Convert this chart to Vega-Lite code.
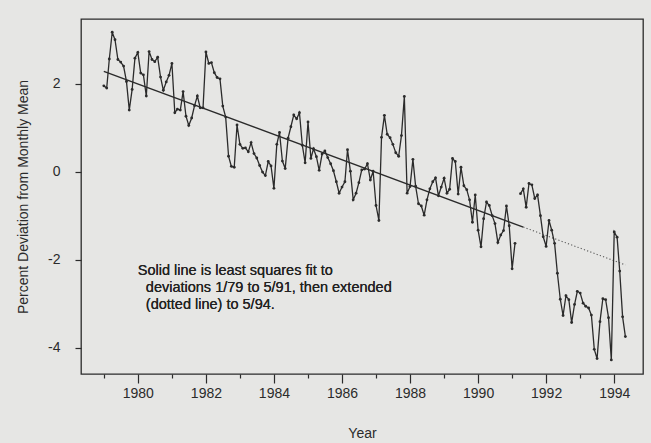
{
  "$schema": "https://vega.github.io/schema/vega-lite/v6.json",
  "width": 562,
  "height": 355,
  "autosize": "none",
  "padding": {"left": 81, "top": 19, "right": 8, "bottom": 69},
  "background": "#e6e6e4",
  "config": {
    "font": "Liberation Sans",
    "view": {"stroke": "#2b2b2b", "strokeWidth": 1.3, "fill": "#e6e6e4"},
    "axis": {"grid": false, "domain": false, "tickColor": "#2b2b2b", "tickWidth": 1.2, "labelColor": "#2b2b2b", "titleColor": "#2b2b2b", "labelFontSize": 14, "titleFontSize": 14, "titleFontWeight": "normal"}
  },
  "datasets": {
    "deviation": [
      {"month": "1979-01", "dev": 1.95}, {"month": "1979-02", "dev": 1.90}, {"month": "1979-03", "dev": 2.56}, {"month": "1979-04", "dev": 3.17},
      {"month": "1979-05", "dev": 3.00}, {"month": "1979-06", "dev": 2.55}, {"month": "1979-07", "dev": 2.49}, {"month": "1979-08", "dev": 2.40},
      {"month": "1979-09", "dev": 2.05}, {"month": "1979-10", "dev": 1.40}, {"month": "1979-11", "dev": 1.87}, {"month": "1979-12", "dev": 2.58},
      {"month": "1980-01", "dev": 2.71}, {"month": "1980-02", "dev": 2.24}, {"month": "1980-03", "dev": 2.20}, {"month": "1980-04", "dev": 1.72},
      {"month": "1980-05", "dev": 2.73}, {"month": "1980-06", "dev": 2.55}, {"month": "1980-07", "dev": 2.50}, {"month": "1980-08", "dev": 2.60},
      {"month": "1980-09", "dev": 2.15}, {"month": "1980-10", "dev": 1.85}, {"month": "1980-11", "dev": 2.04}, {"month": "1980-12", "dev": 2.19},
      {"month": "1981-01", "dev": 2.46}, {"month": "1981-02", "dev": 1.34}, {"month": "1981-03", "dev": 1.42}, {"month": "1981-04", "dev": 1.40},
      {"month": "1981-05", "dev": 1.82}, {"month": "1981-06", "dev": 1.26}, {"month": "1981-07", "dev": 1.05}, {"month": "1981-08", "dev": 1.22},
      {"month": "1981-09", "dev": 1.50}, {"month": "1981-10", "dev": 1.72}, {"month": "1981-11", "dev": 1.45}, {"month": "1981-12", "dev": 1.45},
      {"month": "1982-01", "dev": 2.72}, {"month": "1982-02", "dev": 2.46}, {"month": "1982-03", "dev": 2.48}, {"month": "1982-04", "dev": 2.25},
      {"month": "1982-05", "dev": 2.14}, {"month": "1982-06", "dev": 2.11}, {"month": "1982-07", "dev": 1.49}, {"month": "1982-08", "dev": 1.24},
      {"month": "1982-09", "dev": 0.35}, {"month": "1982-10", "dev": 0.12}, {"month": "1982-11", "dev": 0.10}, {"month": "1982-12", "dev": 1.06},
      {"month": "1983-01", "dev": 0.62}, {"month": "1983-02", "dev": 0.53}, {"month": "1983-03", "dev": 0.54}, {"month": "1983-04", "dev": 0.45},
      {"month": "1983-05", "dev": 0.66}, {"month": "1983-06", "dev": 0.41}, {"month": "1983-07", "dev": 0.31}, {"month": "1983-08", "dev": 0.14},
      {"month": "1983-09", "dev": -0.01}, {"month": "1983-10", "dev": -0.09}, {"month": "1983-11", "dev": 0.23}, {"month": "1983-12", "dev": 0.13},
      {"month": "1984-01", "dev": -0.38}, {"month": "1984-02", "dev": 0.62}, {"month": "1984-03", "dev": 0.89}, {"month": "1984-04", "dev": 0.24},
      {"month": "1984-05", "dev": 0.07}, {"month": "1984-06", "dev": 0.76}, {"month": "1984-07", "dev": 1.02}, {"month": "1984-08", "dev": 1.29},
      {"month": "1984-09", "dev": 1.20}, {"month": "1984-10", "dev": 1.34}, {"month": "1984-11", "dev": 0.60}, {"month": "1984-12", "dev": 0.20},
      {"month": "1985-01", "dev": 1.13}, {"month": "1985-02", "dev": 0.30}, {"month": "1985-03", "dev": 0.52}, {"month": "1985-04", "dev": 0.34},
      {"month": "1985-05", "dev": 0.03}, {"month": "1985-06", "dev": 0.40}, {"month": "1985-07", "dev": 0.47}, {"month": "1985-08", "dev": 0.32},
      {"month": "1985-09", "dev": 0.18}, {"month": "1985-10", "dev": 0.02}, {"month": "1985-11", "dev": -0.23}, {"month": "1985-12", "dev": -0.49},
      {"month": "1986-01", "dev": -0.35}, {"month": "1986-02", "dev": -0.23}, {"month": "1986-03", "dev": 0.50}, {"month": "1986-04", "dev": 0.01},
      {"month": "1986-05", "dev": -0.64}, {"month": "1986-06", "dev": -0.49}, {"month": "1986-07", "dev": -0.25}, {"month": "1986-08", "dev": 0.04},
      {"month": "1986-09", "dev": 0.06}, {"month": "1986-10", "dev": 0.18}, {"month": "1986-11", "dev": -0.19}, {"month": "1986-12", "dev": 0.01},
      {"month": "1987-01", "dev": -0.77}, {"month": "1987-02", "dev": -1.11}, {"month": "1987-03", "dev": 0.78}, {"month": "1987-04", "dev": 1.28},
      {"month": "1987-05", "dev": 0.85}, {"month": "1987-06", "dev": 0.77}, {"month": "1987-07", "dev": 0.62}, {"month": "1987-08", "dev": 0.43},
      {"month": "1987-09", "dev": 0.35}, {"month": "1987-10", "dev": 0.82}, {"month": "1987-11", "dev": 1.71}, {"month": "1987-12", "dev": -0.49},
      {"month": "1988-01", "dev": -0.34}, {"month": "1988-02", "dev": 0.28}, {"month": "1988-03", "dev": -0.33}, {"month": "1988-04", "dev": -0.73},
      {"month": "1988-05", "dev": -0.78}, {"month": "1988-06", "dev": -0.99}, {"month": "1988-07", "dev": -0.64}, {"month": "1988-08", "dev": -0.39},
      {"month": "1988-09", "dev": -0.23}, {"month": "1988-10", "dev": -0.14}, {"month": "1988-11", "dev": -0.55}, {"month": "1988-12", "dev": -0.35},
      {"month": "1989-01", "dev": -0.15}, {"month": "1989-02", "dev": -0.49}, {"month": "1989-03", "dev": -0.40}, {"month": "1989-04", "dev": 0.30},
      {"month": "1989-05", "dev": 0.23}, {"month": "1989-06", "dev": -0.51}, {"month": "1989-07", "dev": 0.10}, {"month": "1989-08", "dev": -0.32},
      {"month": "1989-09", "dev": -0.41}, {"month": "1989-10", "dev": -0.64}, {"month": "1989-11", "dev": -1.15}, {"month": "1989-12", "dev": -0.53},
      {"month": "1990-01", "dev": -1.33}, {"month": "1990-02", "dev": -1.71}, {"month": "1990-03", "dev": -1.07}, {"month": "1990-04", "dev": -0.69},
      {"month": "1990-05", "dev": -0.77}, {"month": "1990-06", "dev": -1.00}, {"month": "1990-07", "dev": -1.18}, {"month": "1990-08", "dev": -1.61},
      {"month": "1990-09", "dev": -1.44}, {"month": "1990-10", "dev": -1.34}, {"month": "1990-11", "dev": -0.78}, {"month": "1990-12", "dev": -1.23},
      {"month": "1991-01", "dev": -2.21}, {"month": "1991-02", "dev": -1.63}, {"month": "1991-03", "dev": null}, {"month": "1991-04", "dev": -0.50},
      {"month": "1991-05", "dev": -0.39}, {"month": "1991-06", "dev": -0.81}, {"month": "1991-07", "dev": -0.27}, {"month": "1991-08", "dev": -0.30},
      {"month": "1991-09", "dev": -0.61}, {"month": "1991-10", "dev": -0.53}, {"month": "1991-11", "dev": -1.00}, {"month": "1991-12", "dev": -1.48},
      {"month": "1992-01", "dev": -1.70}, {"month": "1992-02", "dev": -1.11}, {"month": "1992-03", "dev": -1.33}, {"month": "1992-04", "dev": -1.63},
      {"month": "1992-05", "dev": -2.31}, {"month": "1992-06", "dev": -2.90}, {"month": "1992-07", "dev": -3.27}, {"month": "1992-08", "dev": -2.82},
      {"month": "1992-09", "dev": -2.91}, {"month": "1992-10", "dev": -3.43}, {"month": "1992-11", "dev": -3.02}, {"month": "1992-12", "dev": -2.72},
      {"month": "1993-01", "dev": -2.76}, {"month": "1993-02", "dev": -2.99}, {"month": "1993-03", "dev": -3.06}, {"month": "1993-04", "dev": -3.10},
      {"month": "1993-05", "dev": -3.26}, {"month": "1993-06", "dev": -4.04}, {"month": "1993-07", "dev": -4.25}, {"month": "1993-08", "dev": -3.41},
      {"month": "1993-09", "dev": -2.89}, {"month": "1993-10", "dev": -2.91}, {"month": "1993-11", "dev": -3.32}, {"month": "1993-12", "dev": -4.28},
      {"month": "1994-01", "dev": -1.37}, {"month": "1994-02", "dev": -1.49}, {"month": "1994-03", "dev": -2.26}, {"month": "1994-04", "dev": -3.30},
      {"month": "1994-05", "dev": -3.75}
    ],
    "fitSolid": [
      {"month": "1979-01", "dev": 2.28},
      {"month": "1991-05", "dev": -1.26}
    ],
    "fitExtended": [
      {"month": "1991-05", "dev": -1.26},
      {"month": "1994-05", "dev": -2.12}
    ]
  },
  "encoding": {
    "x": {
      "field": "month",
      "type": "temporal",
      "scale": {"domain": [{"year": 1978, "month": 5, "date": 1}, {"year": 1994, "month": 11, "date": 6}]},
      "axis": {
        "title": "Year",
        "titlePadding": 26,
        "values": [{"year": 1979}, {"year": 1980}, {"year": 1981}, {"year": 1982}, {"year": 1983}, {"year": 1984}, {"year": 1985}, {"year": 1986}, {"year": 1987}, {"year": 1988}, {"year": 1989}, {"year": 1990}, {"year": 1991}, {"year": 1992}, {"year": 1993}, {"year": 1994}],
        "format": "%Y",
        "labelExpr": "year(datum.value) % 2 == 0 ? datum.label : ''",
        "tickSize": {"condition": {"test": "year(datum.value) % 2 == 0", "value": 9}, "value": 4},
        "labelPadding": 3
      }
    },
    "y": {
      "field": "dev",
      "type": "quantitative",
      "scale": {"domain": [-4.6, 3.47], "nice": false, "zero": false},
      "axis": {
        "title": "Percent Deviation from Monthly Mean",
        "values": [-4, -2, 0, 2],
        "labelExpr": "replace(datum.label, '−', '-')",
        "tickSize": 6,
        "labelPadding": 15,
        "titlePadding": 17
      }
    }
  },
  "layer": [
    {
      "data": {"name": "fitSolid"},
      "mark": {"type": "line", "color": "#2b2b2b", "strokeWidth": 1.4}
    },
    {
      "data": {"name": "fitExtended"},
      "mark": {"type": "line", "color": "#5a5a5a", "strokeWidth": 1.1, "strokeDash": [1.2, 2.2]}
    },
    {
      "data": {"name": "deviation"},
      "mark": {"type": "line", "color": "#2b2b2b", "strokeWidth": 1.3, "invalid": "break-paths-filter-domains"}
    },
    {
      "data": {"name": "deviation"},
      "mark": {"type": "point", "filled": true, "size": 8, "color": "#2b2b2b", "opacity": 1}
    },
    {
      "data": {"name": "fitSolid"},
      "mark": {"type": "text", "align": "left", "baseline": "middle", "fontSize": 14.5, "color": "#222222"},
      "encoding": {
        "x": {"datum": {"year": 1980, "month": 1, "date": 1}, "type": "temporal"},
        "y": {"datum": -2.26},
        "text": {"value": "Solid line is least squares fit to"}
      }
    },
    {
      "data": {"name": "fitSolid"},
      "mark": {"type": "text", "align": "left", "baseline": "middle", "fontSize": 14.5, "color": "#222222", "dx": 8},
      "encoding": {
        "x": {"datum": {"year": 1980, "month": 1, "date": 1}, "type": "temporal"},
        "y": {"datum": -2.645},
        "text": {"value": "deviations 1/79 to 5/91, then extended"}
      }
    },
    {
      "data": {"name": "fitSolid"},
      "mark": {"type": "text", "align": "left", "baseline": "middle", "fontSize": 14.5, "color": "#222222", "dx": 8},
      "encoding": {
        "x": {"datum": {"year": 1980, "month": 1, "date": 1}, "type": "temporal"},
        "y": {"datum": -3.03},
        "text": {"value": "(dotted line) to 5/94."}
      }
    }
  ]
}
